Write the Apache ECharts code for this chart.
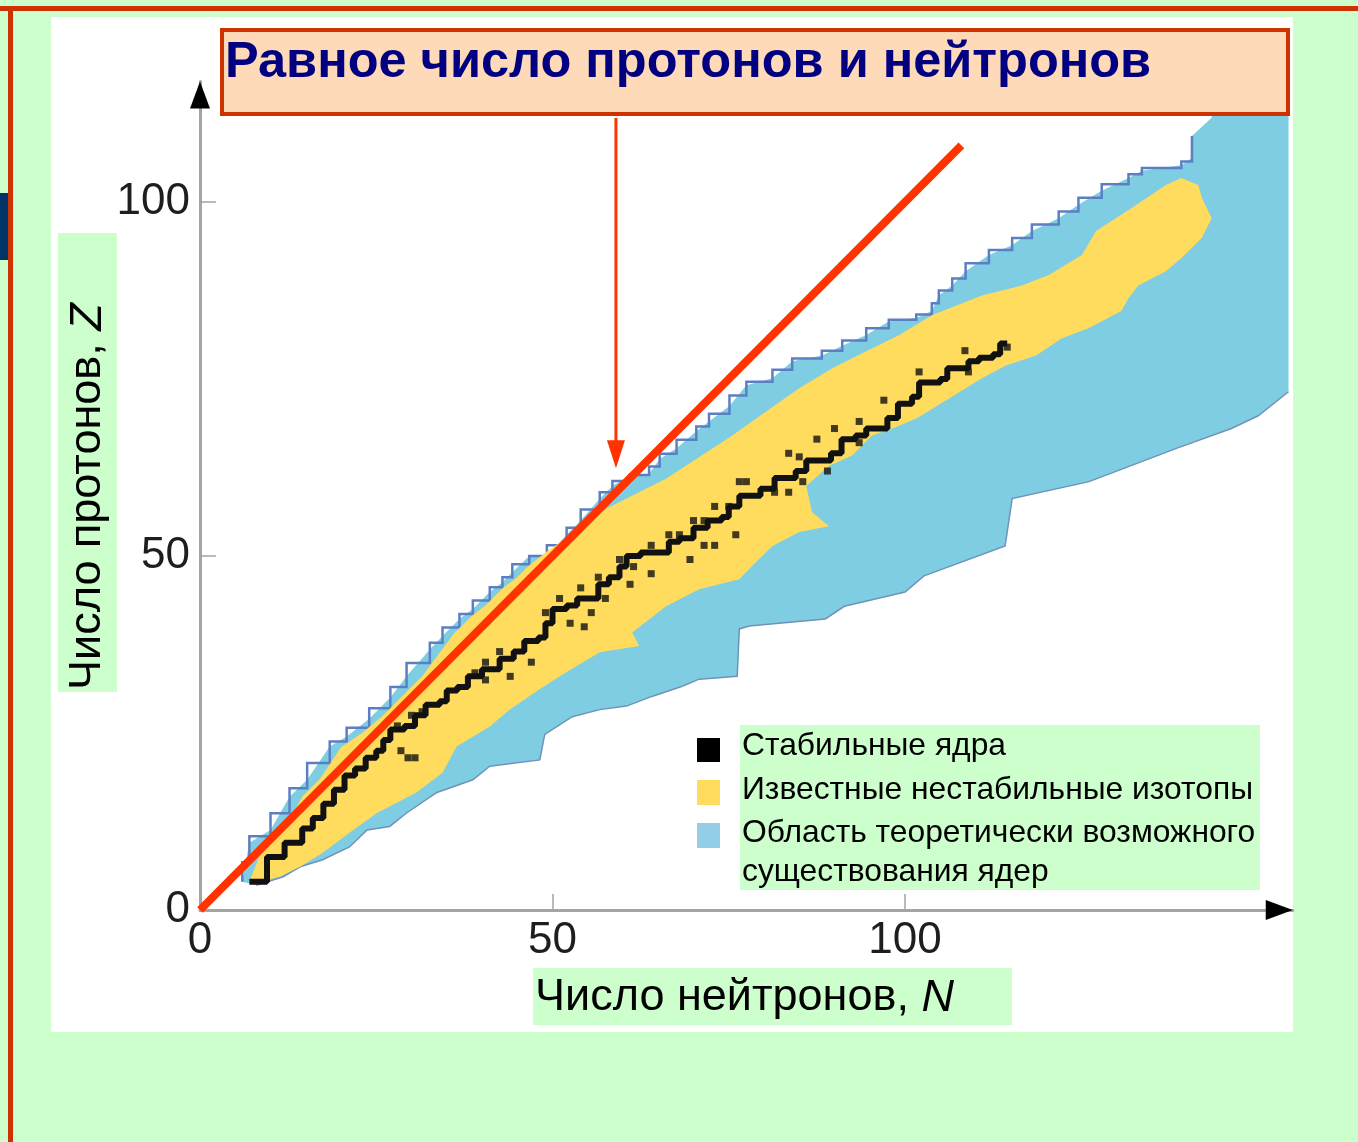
<!DOCTYPE html>
<html>
<head>
<meta charset="utf-8">
<script src="https://cdn.jsdelivr.net/npm/echarts@6/dist/echarts.min.js"></script>
<style>
  html, body { margin: 0; padding: 0; background: #ccffcc; }
  #main { width: 1358px; height: 1142px; }
</style>
</head>
<body>
<div id="main"></div>
<script>
// оси
var N_MAX = 155;
var Z_MAX = 117;
var xTickValues = [0, 50, 100];
var yTickValues = [0, 50, 100];

// область теоретически возможного существования ядер: левый край (протонная граница)
var blueLeftEdge = [[6,4],[7,9.5],[10,11.3],[12.7,16],[15.2,18.4],[18.4,23.1],[20.8,24.5],[24,27],[27,30],
    [29.3,33],[32.6,36.8],[34.4,38.7],[36.8,41.1],[38.7,42.5],[41.1,44.9],[42.9,46.3],[44.3,47.7],[46.7,50],
    [49.2,50],[52,53],[54,55],[56.7,58.1],[58.5,59.9],[60.9,61.3],[63.7,61.6],[65.2,63.7],[67.6,65.2],
    [70.4,67.6],[72.2,69],[75.1,71.2],[77.5,74.1],[81.2,75.1],[84,77.5],[88.2,78.3],[91.1,79.7],[94.5,81.2],
    [97.7,83.1],[101.6,83.6],[103.8,84.6],[104.8,86.8],[106.7,88.2],[108.6,90.2],[111.9,92.5],[115.2,93.9],
    [118,95.9],[121.8,97.7],[124.6,99.6],[127.9,101.6],[131.7,103.4],[133.6,104.4],[139.2,105.2],
    [140.7,106.2],[140.7,109.3],[143.5,111.9],[143.5,117]];
var blueTopRight = [[154.4,117]];
// нижний край (нейтронная граница), справа налево
var blueLowerEdge = [[154.4,73.2],[150.1,69.8],[146.3,68],[138.5,65.2],[126.1,60.5],[115.2,58.1],[114.2,51.4],
    [102.7,47.2],[100,44.9],[91.4,42.9],[88.7,41.1],[77.9,40.1],[76.5,39.7],[76.2,33],[70.8,32.6],[68.4,31.6],
    [64.2,30.2],[60.5,28.8],[56.7,28.3],[52.8,27.3],[48.9,24.8],[48.2,21.2],[41.1,20.3],[38.7,18.4],
    [33.6,16.6],[29.3,13.7],[26.9,11.8],[23.7,11.3],[21.2,8.9],[17.4,7.1],[14.2,6.1],[11.8,4.7],[8,3.5]];

// известные нестабильные изотопы
var yellowUpperEdge = [[7,4],[9,9],[12,11.5],[14.5,16],[17,18.5],[20,23],[23,25],[26,27.5],[29,30.5],
    [31.5,33],[34.5,37],[36,39],[38.5,41.5],[40.5,43],[43,45.5],[45,47],[46.5,48.5],[49,50.5],[52,52.5],
    [54,54.5],[56.7,56.2],[66.1,60.9],[75.5,67],[80.3,70.4],[85,73.7],[89.7,76.5],[94.5,78.9],[99.2,81.2],
    [103.8,84],[110.9,86.8],[116.6,88.2],[120.4,89.7],[125.1,92.5],[127.1,95.9],[132.2,99.2],[137,102.4],
    [139.2,103.4],[141.6,102.4],[142.1,100.6],[143.5,97.7]];
var yellowLowerEdge = [[142.1,94.9],[139.2,92.1],[137,90.2],[133.1,88.2],[131.7,86.4],[130.7,84.6],
    [126.1,82.2],[122.2,80.7],[118.6,78.3],[114.3,76.9],[110.9,75.1],[106.2,72.2],[101.6,69.4],[98.2,68],
    [95.3,67],[92.5,64.2],[89.2,62.7],[86,59.9],[86.8,56.2],[89.2,54.2],[85,53.4],[81.2,51.4],[78.3,48.6],
    [76.5,46.7],[70.8,45.3],[66.1,42.9],[61.3,39.2],[62.3,37.3],[56.7,36.4],[52,33.6],[48.2,31.2],
    [43.9,28.3],[41.1,25.9],[36.4,23.1],[34.4,19.4],[30.7,16.6],[25.1,13.7],[21.2,10.9],[17.4,8.1],
    [14.2,6.1],[11.3,4.7],[8,3.8]];

// стабильные ядра: основная "лесенка" и отдельные точки
var stablePath = [[7,4],[9.5,7.5],[12,9.5],[14.5,11.5],[16,13],[17.5,15],[19,17],[20.5,19],[22,20],
    [23.5,21.5],[25,22.5],[26,24],[27,25.5],[29,26],[30.5,27.5],[32,29],[34,29.5],[35,31],[36.5,31.5],
    [38,33],[40,34],[41.5,34],[42.5,35.5],[44.5,36.5],[46,38],[48,38.5],[49,40.5],[50,42.5],[52,43],
    [53.5,44],[55.5,44],[56.5,46],[58,47],[59.5,48.5],[60.5,50],[62.5,50.5],[65,50.5],[66.5,52],[68,52.5],
    [70,54],[72,55],[74,55.5],[75,57],[76.5,58.5],[79.5,59.5],[81.5,61],[84.5,62],[86,63.5],[89.5,64.5],
    [91,66.5],[93,67],[94.5,68],[97.5,69.5],[99,71.5],[101,72.5],[102,74.5],[105,75],[106,76.5],
    [109,77.5],[110.5,78],[112.5,78.5],[113.5,80],[114.5,80]];
var stableDots = [[76.5,60.5],[73,57],[75,57],[70,55],[71.5,55],[66.5,53],[68,53],[73,51.5],[76,53],
    [71.5,51.5],[69.5,49.5],[64,51.5],[59.5,49.5],[61.5,48.5],[64,47.5],[61,46],[56.5,47],[54,45.5],
    [57.5,44],[51,44],[49,42],[55.5,42],[52.5,40.5],[54.5,40],[47,35],[44,33],[40.5,35],[42.5,36.5],
    [29.5,21.5],[30.5,21.5],[28.5,22.5],[31.5,28],[30,27.5],[28,26],[39,33.5],[40.5,32.5],[109,76],
    [102,76],[97,72],[93.5,69],[90,68],[93.5,66],[87.5,66.5],[83.5,64.5],[85,64],[89,62],[85.5,60.5],
    [83.5,59],[81.5,59],[77.5,60.5],[114.5,79.5],[108.5,79]];

// линия N = Z
var equalLine = [[0,0],[108,108]];

var legendNames = ['Стабильные ядра', 'Известные нестабильные изотопы',
    'Область теоретически возможного', 'существования ядер'];

var BLUE = '#7fcde2', YELLOW = '#ffdc5e';

// контур лесенкой: ступень посередине между соседними точками
function midStairs(pts) {
    var out = [pts[0]];
    for (var i = 1; i < pts.length; i++) {
        var zm = (pts[i - 1][1] + pts[i][1]) / 2;
        out.push([pts[i - 1][0], zm]);
        out.push([pts[i][0], zm]);
        out.push(pts[i]);
    }
    return out;
}

function blueItem(params, api) {
    var toPx = function (p) { return api.coord(p); };
    var all = blueLeftEdge.concat(blueTopRight, blueLowerEdge).map(toPx);
    return {type: 'group', children: [
        {type: 'polygon', shape: {points: all}, style: {fill: BLUE}},
        {type: 'polyline', shape: {points: midStairs(blueLeftEdge.slice(0, blueLeftEdge.length - 2)).map(toPx)},
            style: {stroke: '#5c7fc4', lineWidth: 2.5, fill: null}},
        {type: 'polyline', shape: {points: blueLowerEdge.map(toPx)},
            style: {stroke: '#6f93b8', lineWidth: 1.5, fill: null}}
    ]};
}

function yellowItem(params, api) {
    var pts = yellowUpperEdge.concat(yellowLowerEdge).map(function (p) { return api.coord(p); });
    return {type: 'polygon', shape: {points: pts}, style: {fill: YELLOW}};
}

var myChart = echarts.init(document.getElementById('main'));
var font = '"Liberation Sans", Arial, sans-serif';

var option = {
    animation: false,
    backgroundColor: '#ccffcc',
    grid: {left: 200, top: 81.6, width: 1092.75, height: 828.4},
    xAxis: {
        type: 'value', min: 0, max: N_MAX, interval: 50,
        axisLine: {lineStyle: {color: '#a4a4a4', width: 3}},
        axisTick: {show: true, inside: true, length: 16, customValues: [50, 100], lineStyle: {color: '#a4a4a4', width: 1.5}},
        axisLabel: {customValues: xTickValues, fontSize: 44, color: '#1e1e1e', fontFamily: font, margin: 9},
        splitLine: {show: false}
    },
    yAxis: {
        type: 'value', min: 0, max: Z_MAX, interval: 50,
        axisLine: {lineStyle: {color: '#a4a4a4', width: 3}},
        axisTick: {show: true, inside: true, length: 16, customValues: [50, 100], lineStyle: {color: '#a4a4a4', width: 1.5}},
        axisLabel: {customValues: yTickValues, fontSize: 44, color: '#1e1e1e', fontFamily: font, margin: 10},
        splitLine: {show: false}
    },
    series: [
        {type: 'custom', name: legendNames[2], data: [[0, 0]], renderItem: blueItem, z: 2},
        {type: 'custom', name: legendNames[1], data: [[0, 0]], renderItem: yellowItem, z: 3},
        {type: 'line', name: legendNames[0], data: stablePath, step: 'end', showSymbol: false,
            lineStyle: {color: '#111', width: 6}, z: 4},
        {type: 'scatter', data: stableDots, symbol: 'rect', symbolSize: 7, itemStyle: {color: '#111'}, z: 4},
        {type: 'line', data: equalLine, showSymbol: false, lineStyle: {color: '#ff3300', width: 8}, z: 6}
    ]
};
myChart.setOption(option);

// оформление слайда, подписи и стрелки
var yTop = myChart.convertToPixel({gridIndex: 0}, [0, Z_MAX]);
var xEnd = myChart.convertToPixel({gridIndex: 0}, [N_MAX, 0]);
var tip = myChart.convertToPixel({gridIndex: 0}, [59, 62.4]);

myChart.setOption({
    graphic: [
        {type: 'rect', z: -20, shape: {x: 51, y: 17, width: 1242, height: 1015}, style: {fill: '#fff'}},
        {type: 'rect', z: 50, shape: {x: 0, y: 6, width: 1358, height: 5}, style: {fill: '#cc3300'}},
        {type: 'rect', z: 50, shape: {x: 8, y: 6, width: 5, height: 1136}, style: {fill: '#cc3300'}},
        {type: 'rect', z: 50, shape: {x: 0, y: 193, width: 8, height: 67}, style: {fill: '#003366'}},
        // стрелки осей
        {type: 'polygon', z: 20, shape: {points: [[yTop[0], yTop[1]], [yTop[0] - 10, yTop[1] + 27], [yTop[0] + 10, yTop[1] + 27]]}, style: {fill: '#000'}},
        {type: 'polygon', z: 20, shape: {points: [[xEnd[0], xEnd[1]], [xEnd[0] - 27, xEnd[1] - 10], [xEnd[0] - 27, xEnd[1] + 10]]}, style: {fill: '#000'}},
        // подписи осей
        {type: 'rect', z: 20, shape: {x: 58, y: 233, width: 59, height: 459}, style: {fill: '#ccffcc'}},
        {type: 'text', z: 21, x: 88, y: 690, rotation: Math.PI / 2,
            style: {text: '{n|Число протонов, }{i|Z}', textAlign: 'left', textVerticalAlign: 'middle',
                rich: {n: {fontSize: 45, fontFamily: font, fill: '#000'}, i: {fontSize: 45, fontStyle: 'italic', fontFamily: font, fill: '#000'}}}},
        {type: 'rect', z: 20, shape: {x: 533, y: 968, width: 479, height: 57}, style: {fill: '#ccffcc'}},
        {type: 'text', z: 21, x: 535, y: 998,
            style: {text: '{n|Число нейтронов, }{i|N}', textAlign: 'left', textVerticalAlign: 'middle',
                rich: {n: {fontSize: 45, fontFamily: font, fill: '#000'}, i: {fontSize: 45, fontStyle: 'italic', fontFamily: font, fill: '#000'}}}},
        // заголовок
        {type: 'rect', z: 30, shape: {x: 222, y: 30, width: 1066, height: 84}, style: {fill: '#ffdab9', stroke: '#cc3300', lineWidth: 4}},
        {type: 'text', z: 31, x: 225, y: 63, style: {text: 'Равное число протонов и нейтронов', font: 'bold 50.5px ' + font, fill: '#000080', textAlign: 'left', textVerticalAlign: 'middle'}},
        {type: 'line', z: 30, shape: {x1: tip[0], y1: 118, x2: tip[0], y2: tip[1] - 20}, style: {stroke: '#ff3300', lineWidth: 3}},
        {type: 'polygon', z: 30, shape: {points: [[tip[0], tip[1]], [tip[0] - 9, tip[1] - 28], [tip[0] + 9, tip[1] - 28]]}, style: {fill: '#ff3300'}},
        // легенда
        {type: 'rect', z: 20, shape: {x: 740, y: 725, width: 520, height: 165}, style: {fill: '#ccffcc'}},
        {type: 'rect', z: 21, shape: {x: 697, y: 738, width: 23, height: 24}, style: {fill: '#000'}},
        {type: 'rect', z: 21, shape: {x: 697, y: 780, width: 23, height: 25}, style: {fill: '#ffdc5e'}},
        {type: 'rect', z: 21, shape: {x: 697, y: 823, width: 23, height: 25}, style: {fill: '#93cde8'}},
        {type: 'text', z: 21, x: 742, y: 746, style: {text: legendNames[0], font: '31.8px ' + font, fill: '#000', textVerticalAlign: 'middle'}},
        {type: 'text', z: 21, x: 742, y: 790, style: {text: legendNames[1], font: '31.8px ' + font, fill: '#000', textVerticalAlign: 'middle'}},
        {type: 'text', z: 21, x: 742, y: 833, style: {text: legendNames[2], font: '31.8px ' + font, fill: '#000', textVerticalAlign: 'middle'}},
        {type: 'text', z: 21, x: 742, y: 872, style: {text: legendNames[3], font: '31.8px ' + font, fill: '#000', textVerticalAlign: 'middle'}}
    ]
});
</script>
</body>
</html>
